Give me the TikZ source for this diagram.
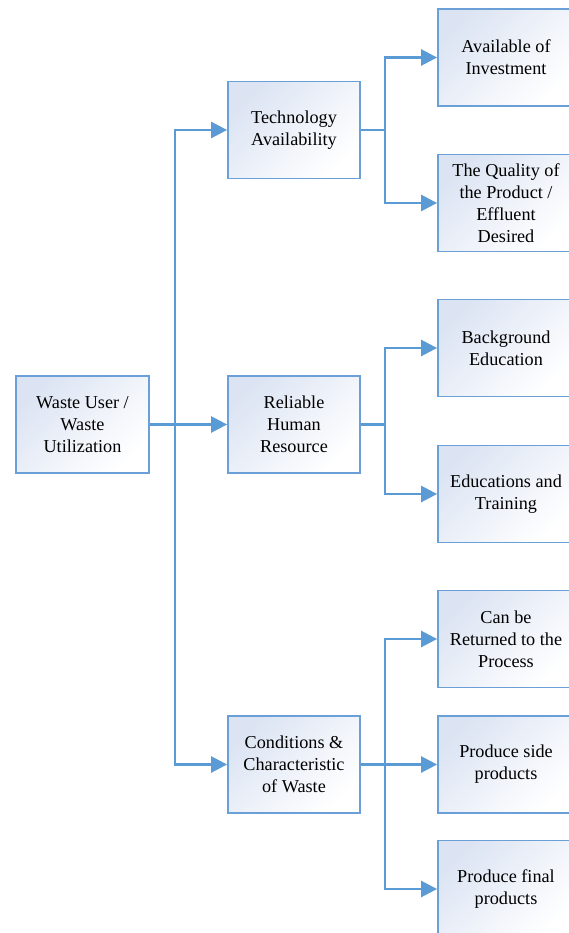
\documentclass[tikz,border=0pt]{standalone}
\usepackage{fontspec}
\setmainfont{Liberation Serif}
\usepackage{tikz}
\usetikzlibrary{arrows.meta}
\definecolor{linkblue}{HTML}{5B9BD5}
\definecolor{boxblue}{HTML}{6A9FD8}
\definecolor{shadeblue}{HTML}{DCE4F3}
\tikzset{
  factor/.style={draw=boxblue, line width=1.8pt, top color=shadeblue, bottom color=white,
    shading angle=45, minimum height=97pt, inner sep=0pt, align=center,
    font=\fontsize{18.2}{22}\selectfont},
  midbox/.style={factor, minimum width=132pt},
  leafbox/.style={factor, minimum width=136pt},
  link/.style={draw=linkblue, line width=2.6pt},
  feed/.style={link, -{Triangle[length=16pt,width=16pt]}}
}
\begin{document}
\begin{tikzpicture}[x=1pt,y=-1pt]
  \useasboundingbox (0,0) rectangle (569,933);
  \node[factor, minimum width=133pt] (waste) at (82.5,424.5) {Waste User /\\Waste\\Utilization};
  \node[midbox] (tech) at (294,130) {Technology\\Availability};
  \node[midbox] (human) at (294,424.5) {Reliable\\Human\\Resource};
  \node[midbox] (cond) at (294,764.5) {Conditions \&\\Characteristic\\of Waste};
  \node[leafbox] (invest) at (506,57.5) {Available of\\Investment};
  \node[leafbox] (quality) at (506,203) {The Quality of\\the Product /\\Effluent\\Desired};
  \node[leafbox] (backg) at (506,348) {Background\\Education};
  \node[leafbox] (train) at (506,494) {Educations and\\Training};
  \node[leafbox] (return) at (506,639) {Can be\\Returned to the\\Process};
  \node[leafbox] (side) at (506,764.5) {Produce side\\products};
  \node[leafbox] (final) at (506,889) {Produce final\\products};
  \coordinate (j0) at ([xshift=25pt]waste.east);
  \coordinate (j1) at ([xshift=24pt]tech.east);
  \coordinate (j2) at ([xshift=24pt]human.east);
  \coordinate (j3) at ([xshift=24pt]cond.east);
  \draw[feed] (waste.east) -- (human.west);
  \draw[feed] (j0) |- (tech.west);
  \draw[feed] (j0) |- (cond.west);
  \draw[link] (tech.east) -- (j1);
  \draw[feed] (j1) |- (invest.west);
  \draw[feed] (j1) |- (quality.west);
  \draw[link] (human.east) -- (j2);
  \draw[feed] (j2) |- (backg.west);
  \draw[feed] (j2) |- (train.west);
  \draw[feed] (cond.east) -- (side.west);
  \draw[feed] (j3) |- (return.west);
  \draw[feed] (j3) |- (final.west);
\end{tikzpicture}
\end{document}
